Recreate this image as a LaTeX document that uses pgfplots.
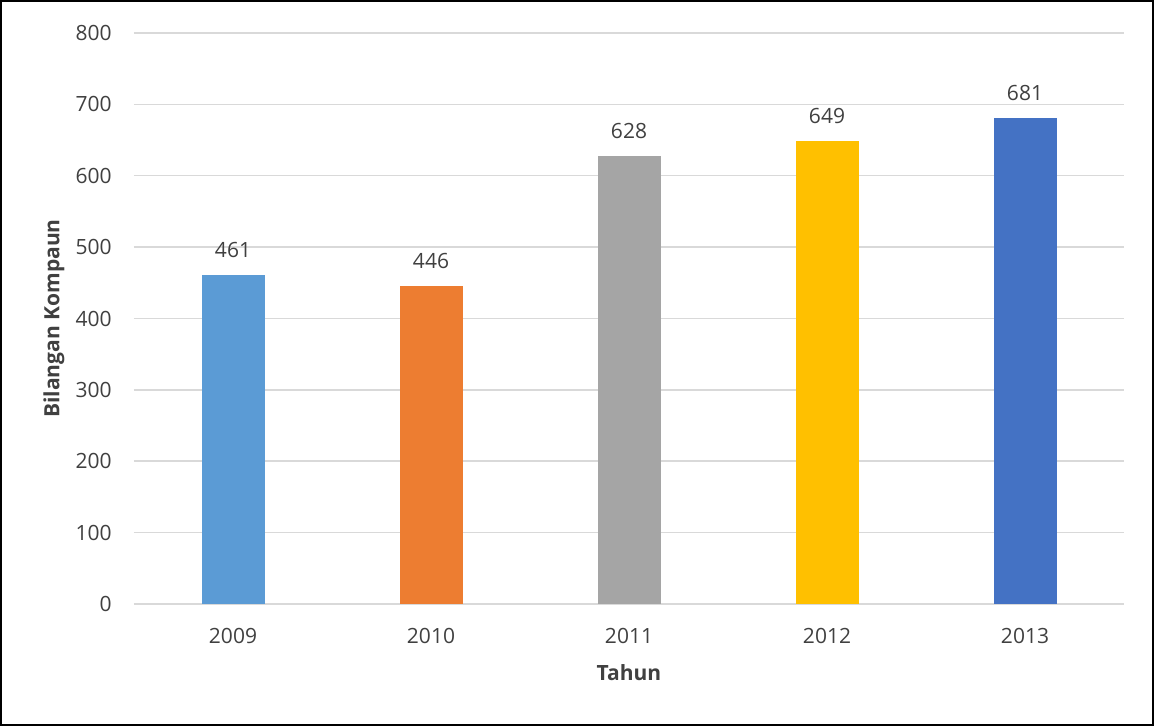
\documentclass[border=0pt]{standalone}
\usepackage{pgfplots}
\pgfplotsset{compat=1.18}
\usepackage{fontspec}
\setmainfont{Open Sans}
\definecolor{txt}{HTML}{404040}
\definecolor{gridc}{HTML}{D9D9D9}
\definecolor{c1}{HTML}{5B9BD5}
\definecolor{c2}{HTML}{ED7D31}
\definecolor{c3}{HTML}{A5A5A5}
\definecolor{c4}{HTML}{FFC000}
\definecolor{c5}{HTML}{4472C4}
\begin{document}
\begin{tikzpicture}
\begin{axis}[
  width=495pt, height=285.5pt, scale only axis,
  xmin=-0.5, xmax=4.5, ymin=0, ymax=800,
  ytick={0,100,...,800},
  xtick={0,1,2,3,4},
  xticklabels={2009,2010,2011,2012,2013},
  major tick length=0pt,
  axis line style={draw=none},
  ymajorgrids, grid style={gridc, line width=0.75pt},
  /pgf/number format/assume math mode=true,
  tick label style={font=\fontsize{10.5}{12}\selectfont, text=txt, inner sep=0pt},
  yticklabel style={xshift=-11pt},
  xticklabel style={yshift=-12pt},
  ybar, bar width=31.5pt, bar shift=0pt,
  nodes near coords,
  nodes near coords style={font=\fontsize{10.5}{12}\selectfont, text=txt, inner sep=0pt, anchor=south, yshift=8.5pt},
  xlabel={Tahun}, ylabel={Bilangan Kompaun},
  xlabel style={font=\fontsize{10.5}{12}\selectfont\bfseries, text=txt, inner sep=0pt, at={(axis description cs:0.5,0)}, anchor=north, yshift=-30pt},
  ylabel style={font=\fontsize{10.5}{12}\selectfont\bfseries, text=txt, inner sep=0pt, at={(axis description cs:0,0.5)}, anchor=center, yshift=40pt},
  clip=false,
]
\addplot[fill=c1, draw=none] coordinates {(0,461)};
\addplot[fill=c2, draw=none] coordinates {(1,446)};
\addplot[fill=c3, draw=none] coordinates {(2,628)};
\addplot[fill=c4, draw=none] coordinates {(3,649)};
\addplot[fill=c5, draw=none] coordinates {(4,681)};
\end{axis}
\draw[line width=1pt, black] ([xshift=-66.5pt,yshift=-60.5pt]current axis.south west) rectangle ([xshift=14.5pt,yshift=16pt]current axis.north east);
\end{tikzpicture}
\end{document}
